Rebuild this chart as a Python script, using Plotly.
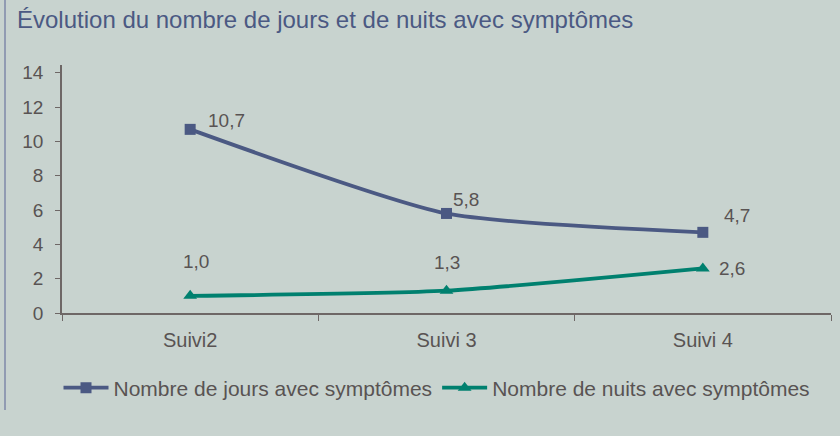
import plotly.graph_objects as go

categories = ["Suivi2", "Suivi 3", "Suivi 4"]
jours = [10.7, 5.8, 4.7]
nuits = [1.0, 1.3, 2.6]
jours_labels = ["10,7", "5,8", "4,7"]
nuits_labels = ["1,0", "1,3", "2,6"]
y_ticks = [0, 2, 4, 6, 8, 10, 12, 14]

title = "Évolution du nombre de jours et de nuits avec symptômes"
name_jours = "Nombre de jours avec symptômes"
name_nuits = "Nombre de nuits avec symptômes"

BG = "#c8d3cf"
C_J = "#4b5983"
C_N = "#00806f"
TXT = "#595353"
AX = "#6e6766"
FONT = "Liberation Sans"

# plot area in pixels
L, R, T, B = 62, 9, 65, 123
PW, PH = 840 - L - R, 436 - T - B

fig = go.Figure()
fig.add_trace(go.Scatter(
    x=categories, y=jours, name=name_jours, mode="lines+markers",
    line=dict(color=C_J, width=3.8, shape="spline", smoothing=0.6),
    marker=dict(symbol="square", size=11, color=C_J),
))
fig.add_trace(go.Scatter(
    x=categories, y=nuits, name=name_nuits, mode="lines+markers",
    line=dict(color=C_N, width=3.8, shape="spline", smoothing=0.6),
    marker=dict(symbol="triangle-up", size=12, color=C_N),
))

j_off = [(36, 9), (19, 14), (34, 17)]
n_off = [(6, 34), (0, 28), (29, 0)]
for c, v, t, (dx, dy) in zip(categories, jours, jours_labels, j_off):
    fig.add_annotation(x=c, y=v, text=t, showarrow=False, xshift=dx, yshift=dy,
                       font=dict(size=19, color=TXT, family=FONT))
for c, v, t, (dx, dy) in zip(categories, nuits, nuits_labels, n_off):
    fig.add_annotation(x=c, y=v, text=t, showarrow=False, xshift=dx, yshift=dy,
                       font=dict(size=19, color=TXT, family=FONT))

fig.update_layout(
    width=840, height=436,
    margin=dict(l=L, r=R, t=T, b=B, autoexpand=False),
    paper_bgcolor=BG, plot_bgcolor=BG,
    font=dict(family=FONT, color=TXT, size=19),
    title=dict(text=title, x=17/840, xanchor="left", y=1 - 20/436, yanchor="middle",
               font=dict(family=FONT, size=24, color="#4b5983")),
    showlegend=True,
    legend=dict(orientation="h", x=(437 - L) / PW, xanchor="center",
                y=(436 - B - 388) / PH, yanchor="middle",
                font=dict(family=FONT, size=21, color=TXT),
                bgcolor="rgba(0,0,0,0)", itemwidth=45, tracegroupgap=0),
    xaxis=dict(type="category", range=[-0.5, 2.5], showgrid=False, zeroline=False,
               showline=True, linecolor=AX, linewidth=1.5,
               ticks="outside", ticklen=6, tickcolor=AX, tickson="boundaries",
               ticklabelstandoff=8,
               tickfont=dict(size=20, color=TXT)),
    yaxis=dict(range=[0, 14.45], tickvals=y_ticks, showgrid=False, zeroline=False,
               showline=True, linecolor=AX, linewidth=1.5,
               ticks="outside", ticklen=5, tickcolor=AX,
               ticklabelstandoff=8,
               tickfont=dict(size=19, color=TXT)),
)

fig.add_shape(type="line", xref="paper", yref="paper",
              x0=(5 - L) / PW, x1=(5 - L) / PW,
              y0=(436 - B - 410) / PH, y1=(436 - B) / PH,
              line=dict(color="#7f89a8", width=1.5))

fig.write_html(
    "out.html",
    config={"displayModeBar": False},
    post_script="document.body.style.margin='0';document.body.style.padding='0';"
                "document.documentElement.style.background='%s';" % BG,
)
